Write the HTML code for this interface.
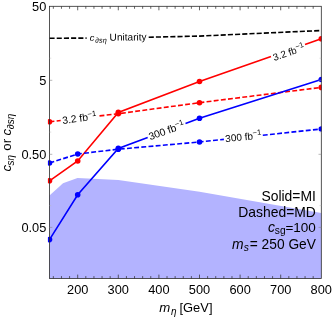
<!DOCTYPE html>
<html><head><meta charset="utf-8"><style>html,body{margin:0;padding:0;background:#fff}body{width:332px;height:318px;overflow:hidden;position:relative;font-family:"Liberation Sans",sans-serif}</style></head><body>
<svg width="332" height="318" viewBox="0 0 332 318" style="position:absolute;left:0;top:0;will-change:transform;font-family:'Liberation Sans',sans-serif">
<defs><clipPath id="cp"><rect x="47.9" y="6.3" width="273.7" height="272.3"/></clipPath></defs>
<path d="M49.5,195.5 L63.0,183.3 L77.5,178.0 L118.3,180.0 L199.6,191.8 L321.3,213.0 L321.3,278.6 L49.5,278.6Z" fill="#b3b3ff"/>
<g clip-path="url(#cp)" fill="none" stroke-width="1.6" stroke-linecap="butt">
<path d="M49.5,38.3 L77.7,38.1 L86.6,38.1 M148.7,37.2 L199.5,36.1 L321.3,30.5" stroke="#000" stroke-dasharray="5.1,2.1"/>
<path d="M49.5,180.8 L77.7,161.0 L118.3,112.4 L199.5,81.5 L271.0,56.4 M305.0,44.4 L321.3,38.7" stroke="#ff0000"/>
<path d="M49.5,121.8 L60.7,120.5 M99.5,115.9 L118.3,113.7 L199.5,102.7 L321.3,87.4" stroke="#ff0000" stroke-dasharray="4.9,2.3"/>
<path d="M49.5,239.6 L77.7,194.7 L118.3,148.4 L147.7,137.5 M185.5,123.5 L199.5,118.3 L321.3,79.5" stroke="#0000ff"/>
<path d="M49.5,163.0 L77.7,154.0 L118.3,149.2 L199.5,142.0 L223.9,139.4 M262.8,135.2 L321.3,129.0" stroke="#0000ff" stroke-dasharray="4.9,2.3"/>
</g>
<g clip-path="url(#cp)">
<circle cx="49.5" cy="180.8" r="2.8" fill="#ff0000"/>
<circle cx="77.7" cy="161.0" r="2.8" fill="#ff0000"/>
<circle cx="118.3" cy="112.4" r="2.8" fill="#ff0000"/>
<circle cx="199.5" cy="81.5" r="2.8" fill="#ff0000"/>
<circle cx="321.3" cy="38.7" r="2.8" fill="#ff0000"/>
<circle cx="49.5" cy="121.8" r="2.8" fill="#ff0000"/>
<circle cx="118.3" cy="113.7" r="2.8" fill="#ff0000"/>
<circle cx="199.5" cy="102.7" r="2.8" fill="#ff0000"/>
<circle cx="321.3" cy="87.4" r="2.8" fill="#ff0000"/>
<circle cx="49.5" cy="239.6" r="2.8" fill="#0000ff"/>
<circle cx="77.7" cy="194.7" r="2.8" fill="#0000ff"/>
<circle cx="118.3" cy="148.4" r="2.8" fill="#0000ff"/>
<circle cx="199.5" cy="118.3" r="2.8" fill="#0000ff"/>
<circle cx="321.3" cy="79.5" r="2.8" fill="#0000ff"/>
<circle cx="49.5" cy="163.0" r="2.8" fill="#0000ff"/>
<circle cx="77.7" cy="154.0" r="2.8" fill="#0000ff"/>
<circle cx="118.3" cy="149.2" r="2.8" fill="#0000ff"/>
<circle cx="199.5" cy="142.0" r="2.8" fill="#0000ff"/>
<circle cx="321.3" cy="129.0" r="2.8" fill="#0000ff"/>
</g>
<rect x="49.5" y="6.3" width="271.8" height="272.3" fill="none" stroke="#2a2a2a" stroke-width="0.8"/>
<path d="M53.34,6.3 v2.5 M53.34,278.6 v-2.5 M61.46,6.3 v2.5 M61.46,278.6 v-2.5 M69.58,6.3 v2.5 M69.58,278.6 v-2.5 M77.70,6.3 v4.0 M77.70,278.6 v-4.0 M85.82,6.3 v2.5 M85.82,278.6 v-2.5 M93.94,6.3 v2.5 M93.94,278.6 v-2.5 M102.06,6.3 v2.5 M102.06,278.6 v-2.5 M110.18,6.3 v2.5 M110.18,278.6 v-2.5 M118.30,6.3 v4.0 M118.30,278.6 v-4.0 M126.42,6.3 v2.5 M126.42,278.6 v-2.5 M134.54,6.3 v2.5 M134.54,278.6 v-2.5 M142.66,6.3 v2.5 M142.66,278.6 v-2.5 M150.78,6.3 v2.5 M150.78,278.6 v-2.5 M158.90,6.3 v4.0 M158.90,278.6 v-4.0 M167.02,6.3 v2.5 M167.02,278.6 v-2.5 M175.14,6.3 v2.5 M175.14,278.6 v-2.5 M183.26,6.3 v2.5 M183.26,278.6 v-2.5 M191.38,6.3 v2.5 M191.38,278.6 v-2.5 M199.50,6.3 v4.0 M199.50,278.6 v-4.0 M207.62,6.3 v2.5 M207.62,278.6 v-2.5 M215.74,6.3 v2.5 M215.74,278.6 v-2.5 M223.86,6.3 v2.5 M223.86,278.6 v-2.5 M231.98,6.3 v2.5 M231.98,278.6 v-2.5 M240.10,6.3 v4.0 M240.10,278.6 v-4.0 M248.22,6.3 v2.5 M248.22,278.6 v-2.5 M256.34,6.3 v2.5 M256.34,278.6 v-2.5 M264.46,6.3 v2.5 M264.46,278.6 v-2.5 M272.58,6.3 v2.5 M272.58,278.6 v-2.5 M280.70,6.3 v4.0 M280.70,278.6 v-4.0 M288.82,6.3 v2.5 M288.82,278.6 v-2.5 M296.94,6.3 v2.5 M296.94,278.6 v-2.5 M305.06,6.3 v2.5 M305.06,278.6 v-2.5 M313.18,6.3 v2.5 M313.18,278.6 v-2.5" stroke="#333" stroke-width="0.75" fill="none"/>
<path d="M49.5,80.30 h2.8 M321.3,80.30 h-2.8 M49.5,154.30 h2.8 M321.3,154.30 h-2.8 M49.5,227.40 h2.8 M321.3,227.40 h-2.8" stroke="#888" stroke-width="0.6" fill="none"/>
<path d="M49.5,58.20 h1.8 M321.3,58.20 h-1.8 M49.5,132.10 h1.8 M321.3,132.10 h-1.8 M49.5,205.60 h1.8 M321.3,205.60 h-1.8" stroke="#bbb" stroke-width="0.5" fill="none"/>
<text x="77.7" y="293.6" font-size="12.8" text-anchor="middle">200</text>
<text x="118.3" y="293.6" font-size="12.8" text-anchor="middle">300</text>
<text x="158.9" y="293.6" font-size="12.8" text-anchor="middle">400</text>
<text x="199.5" y="293.6" font-size="12.8" text-anchor="middle">500</text>
<text x="240.1" y="293.6" font-size="12.8" text-anchor="middle">600</text>
<text x="280.7" y="293.6" font-size="12.8" text-anchor="middle">700</text>
<text x="321.3" y="293.6" font-size="12.8" text-anchor="middle">800</text>
<text x="46.3" y="10.9" font-size="12.8" text-anchor="end">50</text>
<text x="46.3" y="84.9" font-size="12.8" text-anchor="end">5</text>
<text x="46.3" y="158.9" font-size="12.8" text-anchor="end">0.50</text>
<text x="46.3" y="232.0" font-size="12.8" text-anchor="end">0.05</text>
<text x="159.3" y="312.3" font-size="13.2" font-style="italic">m</text>
<text x="170.9" y="315.0" font-size="10.0" font-style="italic">η</text>
<text x="179.5" y="312.3" font-size="12.9">[GeV]</text>
<g transform="translate(10.7,141.7) rotate(-90)"><text font-size="13.3" font-style="italic" x="-29.7" y="0">c</text><text font-size="10.0" font-style="italic" x="-23.9" y="3.1">sη</text><text font-size="13.3" x="-9.0" y="0">or</text><text font-size="13.3" font-style="italic" x="6.2" y="0">c</text><text font-size="10.0" font-style="italic" x="12.5" y="3.1">∂sη</text></g>
<text x="315.9" y="200.5" font-size="13.9" text-anchor="end">Solid=MI</text>
<text x="315.9" y="216.6" font-size="13.9" text-anchor="end">Dashed=MD</text>
<text x="315.9" y="231.7" font-size="13.5" text-anchor="end">=100</text>
<text x="274.8" y="234.4" font-size="10.2">sg</text>
<text x="267.9" y="231.7" font-size="13.9" font-style="italic">c</text>
<text x="315.9" y="248.5" font-size="13.75" text-anchor="end">= 250 GeV</text>
<text x="243.7" y="251.2" font-size="10.3" font-style="italic">s</text>
<text x="231.9" y="248.5" font-size="13.9" font-style="italic">m</text>
<g transform="translate(118,40.6) rotate(-0.6)"><text font-size="9.4" font-style="italic" x="-28.3" y="0">c</text><text font-size="7.3" font-style="italic" y="1.9"><tspan x="-22.9">∂</tspan><tspan x="-19.1">s</tspan><tspan x="-15.2">η</tspan></text><text font-size="10.1" x="-8.4" y="0">Unitarity</text></g>
<text transform="translate(288.8,52.5) rotate(-19.0)" font-size="9.8" text-anchor="middle" y="3.3">3.2 fb<tspan font-size="7.6" dy="-3.8">−1</tspan></text>
<text transform="translate(79.4,118.4) rotate(-7.6)" font-size="10.3" text-anchor="middle" y="3.3">3.2 fb<tspan font-size="7.6" dy="-3.8">−1</tspan></text>
<text transform="translate(166.6,130.8) rotate(-20.0)" font-size="10.3" text-anchor="middle" y="3.3">300 fb<tspan font-size="7.6" dy="-3.8">−1</tspan></text>
<text transform="translate(243.4,137.0) rotate(-6.0)" font-size="10.0" text-anchor="middle" y="3.3">300 fb<tspan font-size="7.6" dy="-3.8">−1</tspan></text>
</svg>
</body></html>
